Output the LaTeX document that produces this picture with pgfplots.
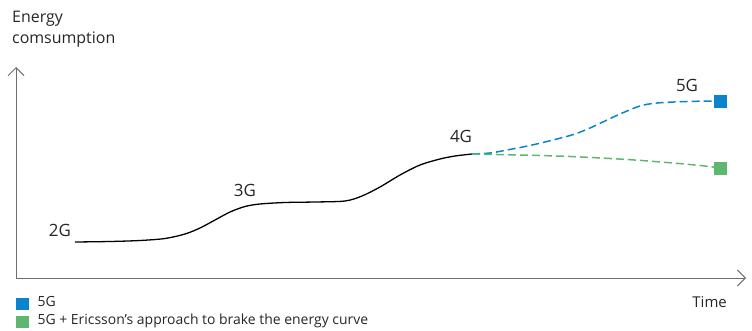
\documentclass[border=0pt]{standalone}
\usepackage{pgfplots}
\pgfplotsset{compat=1.18}
\usepackage{fontspec}
\setmainfont{Open Sans}
\usetikzlibrary{arrows.meta}
\definecolor{ebl}{HTML}{0A84CC}
\definecolor{egr}{HTML}{5DB770}
\definecolor{axg}{HTML}{6E6E6E}
\definecolor{txt}{HTML}{262626}

% Network generations: energy vs. time
\pgfplotstableread{
x y
75 242
110 241.5
140 240.5
165 238.5
185 234
200 228
215 220
230 212
245 206.5
260 204
285 202.5
315 202
345 201
362 196
380 187
400 175
420 165
440 159
455 156
472 154
}\gen
\pgfplotstableread{
x y
472 154
490 153
507 150
530 145.5
557 139
575 134
590 128
605 121
620 114
640 106
657 103
687 101.5
713 101
720 101
}\fiveg
\pgfplotstableread{
x y
472 154
520 155
570 156.5
627 159.5
673 163
700 165.5
713 167
720 168
}\ericsson

\begin{document}
\begin{tikzpicture}
\path[use as bounding box] (0,0) rectangle (752bp,331bp);
\begin{axis}[
  scale only axis, width=752bp, height=331bp,
  xmin=0, xmax=752, ymin=0, ymax=331, y dir=reverse,
  axis lines=none, clip=false,
  legend style={draw=none, fill=none, at={(axis cs:16,296)}, anchor=north west,
    font=\fontsize{14}{16}\selectfont\color{txt}, row sep=4bp, column sep=9bp,
    inner sep=0pt, nodes={inner sep=0pt, text depth=3.5bp, text height=10.5bp},
    cells={anchor=west}},
  legend cell align=left,
  legend image code/.code={\fill (0bp,-5.5bp) rectangle (12bp,5.5bp);},
]
% axes with open arrowheads
\draw[axg, line width=0.9pt, -{Straight Barb[length=8bp,width=16bp]}] (axis cs:16,278) -- (axis cs:16,67);
\draw[axg, line width=0.9pt, -{Straight Barb[length=8bp,width=16bp]}] (axis cs:16,278) -- (axis cs:746,278);

\addlegendimage{ebl, fill=ebl}
\addlegendentry{5G}
\addlegendimage{egr, fill=egr}
\addlegendentry{5G + Ericsson’s approach to brake the energy curve}

\addplot[black, line width=1.3pt, smooth, forget plot] table {\gen};
\addplot[ebl, line width=1.5pt, dash pattern=on 8bp off 4bp, smooth, forget plot] table {\fiveg};
\addplot[egr, line width=1.5pt, dash pattern=on 8bp off 4bp, smooth, forget plot] table {\ericsson};
\addplot[ebl, only marks, mark=square*, mark size=6bp, forget plot] coordinates {(720,101)};
\addplot[egr, only marks, mark=square*, mark size=6bp, forget plot] coordinates {(720,168)};

\node[txt, font=\fontsize{17}{20}\selectfont] at (axis cs:60,230) {2G};
\node[txt, font=\fontsize{17}{20}\selectfont] at (axis cs:245,190) {3G};
\node[txt, font=\fontsize{17}{20}\selectfont] at (axis cs:461,136) {4G};
\node[txt, font=\fontsize{17}{20}\selectfont] at (axis cs:687,85) {5G};
\node[txt, font=\fontsize{16}{21}\selectfont, anchor=north west, align=left, inner sep=0pt]
  at (axis cs:12,11) {Energy\\comsumption};
\node[txt, font=\fontsize{15}{18}\selectfont, anchor=east, inner sep=0pt] at (axis cs:727,302) {Time};
\end{axis}
\end{tikzpicture}
\end{document}
